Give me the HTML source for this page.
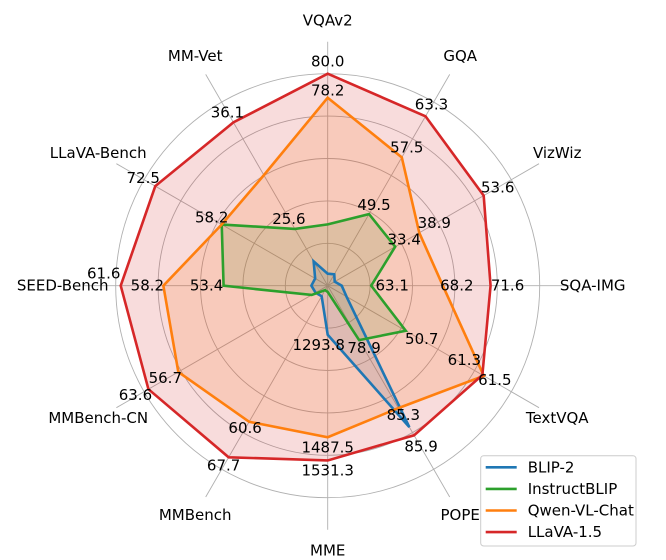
<!DOCTYPE html>
<html><head><meta charset="utf-8">
<style>
html,body{margin:0;padding:0;background:#fff;}
svg{display:block;font-family:"DejaVu Sans","Liberation Sans",sans-serif;}
</style></head>
<body>
<svg id="chart" width="666" height="560" viewBox="0 0 666 560" xmlns="http://www.w3.org/2000/svg"></svg>
<script>
const axesNames = ["VQAv2","GQA","VizWiz","SQA-IMG","TextVQA","POPE","MME","MMBench","MMBench-CN","SEED-Bench","LLaVA-Bench","MM-Vet"];
const axisMin = [64.1,39.4,18.0,60.0,39.9,74.9,1201.1,33.4,22.2,45.1,35.4,20.0];
const axisMax = [80.0,65.3,59.9,75.1,65.3,88.4,1601.7,70.1,64.6,62.0,74.9,38.1];
const seriesNames = ["BLIP-2","InstructBLIP","Qwen-VL-Chat","LLaVA-1.5"];
const seriesColors = ["#1f77b4","#2ca02c","#ff7f0e","#d62728"];
const blip2 = [65.0,41.0,19.6,61.0,42.5,85.3,1293.8,35.5,25.0,46.4,38.1,22.4];
const instructblip = [68.7,49.5,33.4,63.1,50.7,78.9,1212.8,34.3,25.9,53.4,58.2,25.6];
const qwen = [78.2,57.5,38.9,68.2,61.5,83.9,1487.5,60.6,56.7,58.2,58.2,30.9];
const llava = [80.0,63.3,53.6,71.6,61.3,85.9,1531.3,67.7,63.6,61.6,72.5,36.1];
const seriesValues = [blip2, instructblip, qwen, llava];
// printed value labels: [series, axis, dx, dy]
const valueLabels = [
 [3,0,0,-12],[2,0,0,-7],[3,1,6,-12],[2,1,5,-10],[1,1,5,-9],
 [3,2,14,-8],[2,2,15,-10],[1,2,9,-7],[1,3,21,0],[2,3,14,0],[3,3,17,0],
 [1,4,16,8],[3,4,-18,-15],[2,4,11,4],[0,5,-6,-12],[3,5,7,11],[1,5,5,8],
 [0,6,-9,10],[2,6,0,10],[3,6,0,10],[2,7,-4,6],[3,7,-5,8],[2,8,-13,6],[3,8,-13,6],
 [1,9,-17,0],[2,9,-16,0],[3,9,-17,-12],[3,10,-12,-8],[1,10,-10,-7],[1,11,-6,-10],[3,11,-6,-10]
];

const NS="http://www.w3.org/2000/svg";
const svg=document.getElementById('chart');
const CX=327.7, CY=285.7, R=212, N=axesNames.length;
function ang(i){return i*2*Math.PI/N;}
function rScale(i,v){return R*(v-axisMin[i])/(axisMax[i]-axisMin[i]);}
function pt(i,r){return [CX+r*Math.sin(ang(i)), CY-r*Math.cos(ang(i))];}
function mk(tag,attrs){const e=document.createElementNS(NS,tag);for(const k in attrs)e.setAttribute(k,attrs[k]);svg.appendChild(e);return e;}

for(let k=1;k<=5;k++){
  const c=mk('circle',{cx:CX,cy:CY,r:R*k/5,fill:'none',stroke:'#b0b0b0','stroke-width':0.9});
  
  
}
axesNames.forEach((name,i)=>{
  const [x,y]=pt(i,244);
  const l=mk('line',{x1:CX,y1:CY,x2:x,y2:y,stroke:'#b0b0b0','stroke-width':0.9});
  
  
  const [tx,ty]=pt(i,265);
  const t=mk('text',{x:tx,y:ty,'text-anchor':'middle','dominant-baseline':'central','font-size':15,fill:'#000'});
  t.textContent=name;
  
  
});
function polyPts(vals){return vals.map((v,i)=>pt(i,rScale(i,v)).map(n=>n.toFixed(2)).join(',')).join(' ');}
seriesValues.forEach((vals,s)=>{
  const f=mk('polygon',{points:polyPts(vals),fill:seriesColors[s],'fill-opacity':0.16,stroke:'none'});
  
  
});
seriesValues.forEach((vals,s)=>{
  const p=mk('polygon',{points:polyPts(vals),fill:'none',stroke:seriesColors[s],'stroke-width':2.6,'stroke-linejoin':'miter'});
  
  
});
valueLabels.forEach(([s,i,dx,dy])=>{
  const v=seriesValues[s][i];
  const [x,y]=pt(i,rScale(i,v));
  const t=mk('text',{x:x+dx,y:y+dy,'text-anchor':'middle','dominant-baseline':'central','font-size':15,fill:'#000'});
  t.textContent=v.toFixed(1);
  
  
});
const lg=mk('rect',{x:480.7,y:455.7,width:155.3,height:90.3,rx:3,fill:'#fff','fill-opacity':0.8,stroke:'#ccc','stroke-width':1});


seriesNames.forEach((n,s)=>{
  const y=467.3+s*21.6;
  const l=mk('line',{x1:485.7,y1:y,x2:516.7,y2:y,stroke:seriesColors[s],'stroke-width':2.6});
  
  
  const t=mk('text',{x:527.7,y:y,'dominant-baseline':'central','font-size':15,fill:'#000'});
  t.textContent=n;
  
  
});
</script>
</body></html>
